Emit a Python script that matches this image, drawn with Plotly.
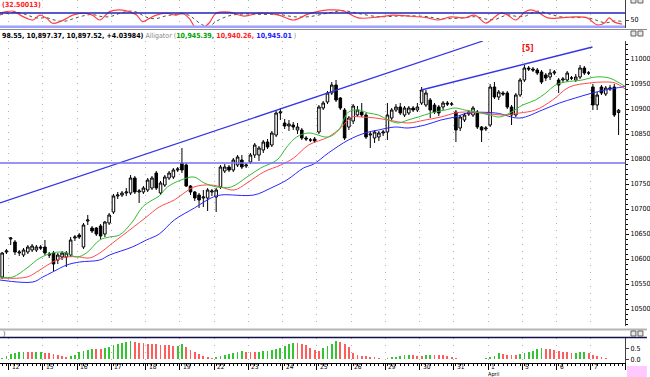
import plotly.graph_objects as go

# ---------------- data ----------------
bars = list(range(145))
opens = [10564,10614,10640,10634,10612,10608,10614,10618,10618,10624,
         10624,10610,10612,10598,10604,10604,10608,10642,10648,10624,
         10676,10662,10662,10666,10650,10672,10694,10726,10728,10732,
         10732,10762,10734,10734,10738,10742,10772,10732,10748,10762,
         10764,10778,10792,10788,10746,10734,10728,10722,10722,10734,
         10724,10744,10776,10784,10778,10788,10798,10786,10794,10808,
         10808,10818,10834,10828,10848,10892,10872,10866,10868,10858,
         10858,10842,10838,10840,10854,10902,10914,10932,10948,10922,
         10898,10864,10876,10888,10894,10888,10848,10842,10844,10852,
         10854,10882,10898,10904,10888,10892,10902,10898,10912,10908,
         10918,10908,10904,10904,10912,10910,10894,10862,10878,10890,
         10888,10894,10864,10860,10868,10944,10924,10932,10932,10904,
         10888,10928,10958,10982,10980,10978,10974,10968,10964,10972,
         10958,10958,10958,10962,10958,10964,10982,10972,10944,10908,
         10944,10930,10940,10944,10893]
highs = [10614,10620,10644,10638,10618,10622,10628,10630,10628,10628,
         10638,10614,10616,10612,10616,10616,10644,10648,10652,10672,
         10688,10666,10664,10670,10676,10692,10730,10734,10736,10742,
         10768,10766,10740,10746,10762,10766,10776,10756,10768,10776,
         10782,10784,10822,10792,10748,10736,10732,10738,10742,10740,
         10742,10788,10790,10788,10802,10808,10808,10792,10812,10832,
         10826,10838,10840,10856,10896,10902,10880,10878,10874,10872,
         10862,10846,10842,10844,10908,10916,10936,10954,10958,10924,
         10902,10886,10910,10906,10912,10892,10856,10858,10856,10858,
         10912,10902,10910,10912,10906,10906,10906,10912,10944,10938,
         10922,10912,10908,10916,10916,10914,10898,10888,10892,10898,
         10906,10898,10866,10866,10950,10954,10938,10936,10936,10908,
         10932,10962,10988,10986,10984,10982,10978,10972,10980,10978,
         10962,10964,10976,10966,10970,10988,10986,10976,10950,10934,
         10948,10946,10948,10950,10900]
lows = [10560,10610,10628,10608,10606,10604,10610,10614,10614,10618,
        10608,10602,10576,10590,10598,10584,10604,10636,10640,10620,
        10668,10652,10646,10640,10644,10668,10690,10720,10724,10726,
        10728,10730,10712,10730,10734,10738,10738,10728,10744,10758,
        10760,10774,10772,10744,10728,10716,10702,10704,10696,10726,
        10694,10740,10772,10774,10774,10784,10780,10782,10790,10802,
        10796,10812,10820,10824,10844,10878,10860,10856,10858,10850,
        10838,10836,10834,10832,10850,10898,10910,10928,10914,10898,
        10838,10858,10870,10884,10884,10840,10822,10832,10836,10846,
        10838,10878,10894,10888,10884,10888,10894,10894,10908,10904,
        10882,10890,10886,10898,10906,10906,10834,10856,10874,10886,
        10884,10860,10834,10856,10864,10920,10918,10926,10900,10868,
        10884,10924,10954,10976,10974,10968,10950,10956,10958,10968,
        10932,10952,10954,10958,10954,10960,10968,10968,10898,10898,
        10928,10926,10936,10884,10848]
closes = [10612,10616,10642,10614,10614,10618,10624,10626,10624,10622,
          10612,10608,10590,10608,10612,10612,10638,10644,10644,10668,
          10678,10656,10650,10646,10674,10688,10726,10728,10732,10734,
          10762,10734,10736,10742,10758,10762,10742,10752,10764,10772,
          10778,10780,10778,10746,10734,10722,10718,10724,10738,10736,
          10738,10784,10784,10778,10798,10804,10784,10788,10808,10828,
          10822,10834,10824,10852,10892,10894,10866,10870,10864,10864,
          10842,10840,10838,10836,10904,10912,10932,10948,10918,10902,
          10842,10882,10906,10898,10888,10844,10850,10854,10852,10854,
          10888,10898,10904,10892,10902,10902,10898,10904,10938,10932,
          10898,10894,10892,10912,10910,10910,10858,10884,10888,10894,
          10902,10864,10858,10862,10944,10924,10934,10930,10904,10888,
          10928,10958,10982,10980,10978,10972,10954,10962,10972,10974,
          10948,10960,10972,10962,10964,10982,10972,10972,10908,10928,
          10932,10942,10942,10888,10897.52]

# Alligator lines (sampled along the bars)
jaw_x = [-0.5,7.2,9.5,11.8,15.1,18.1,22.8,25.1,30.4,33.7,
         36.7,40.2,44.9,48.8,51.1,58.8,62.8,66.5,70.4,72.8,
         76.2,80.9,84.8,87.9,91.8,94.8,98.8,102.5,105.8,108.8,
         115.3,120.9,126.2,130.2,133.9,137.9,140.9,145.5]
jaw_p = [10558,10554,10564,10574,10588,10594,10598,10608,10624,10638,
         10650,10678,10702,10722,10728,10728,10742,10758,10782,10790,
         10812,10838,10852,10858,10864,10862,10868,10878,10884,10892,
         10892,10882,10898,10912,10922,10932,10938,10945.01]
teeth_x = [-0.5,5.8,8.8,11.8,15.1,18.1,20.4,22.8,25.8,30.4,
           33.7,36.7,40.2,44.8,48.8,51.1,54.2,57.2,61.1,65.1,
           68.1,71.6,76.2,79.3,81.6,83.9,87.2,90.2,94.8,98.8,
           102.5,105.8,108.1,112.3,117.0,120.9,124.6,128.6,132.5,137.2,
           140.2,143.2,145.5]
teeth_p = [10562,10564,10578,10594,10604,10604,10602,10612,10632,10662,
           10684,10704,10718,10744,10748,10744,10738,10752,10774,10788,
           10802,10828,10844,10864,10884,10884,10882,10878,10872,10878,
           10884,10892,10894,10892,10888,10892,10898,10918,10944,10952,
           10954,10952,10940.26]
lips_x = [-0.5,2.5,5.8,8.8,11.8,13.5,15.1,17.4,19.7,22.8,
          25.1,27.4,30.4,32.8,35.1,36.7,38.6,41.8,44.8,47.2,
          50.2,53.5,57.2,60.4,64.2,66.5,68.8,71.6,76.2,78.6,
          80.9,83.2,85.5,87.9,90.2,92.5,94.8,97.2,100.2,103.5,
          105.8,108.1,110.7,113.9,116.2,118.6,121.6,124.6,127.0,129.3,
          131.6,135.5,138.6,141.8,144.2,145.5]
lips_p = [10564,10564,10582,10602,10612,10614,10612,10604,10612,10638,
          10644,10648,10674,10704,10718,10726,10744,10758,10764,10752,
          10744,10744,10764,10782,10798,10824,10844,10852,10844,10858,
          10894,10898,10892,10888,10878,10872,10878,10884,10892,10898,
          10902,10898,10894,10888,10884,10892,10908,10918,10932,10948,
          10954,10958,10964,10962,10952,10945.39]

# Oscillator (top panel)
osc_x = [-0.5,1.1,2.5,4.2,5.8,7.2,8.8,10.4,11.8,13.5,
         15.1,16.5,18.8,21.1,22.8,25.1,27.4,29.7,31.4,32.8,
         34.4,36.0,38.3,40.7,42.1,43.7,45.3,46.7,48.3,50.0,
         53.0,56.5,60.4,64.6,68.1,71.6,76.2,79.7,83.2,87.9,
         91.4,94.8,99.5,101.8,104.8,108.1,110.4,113.0,115.1,116.5,
         118.1,120.0,122.1,123.5,125.1,127.4,130.4,133.7,136.7,139.0,
         140.7,141.8,143.0,144.8]
osc_k = [79,86,89,71,57,50,71,57,36,43,
         57,71,79,71,50,86,93,86,71,43,
         57,71,79,71,79,57,14,14,36,79,
         84,67,80,71,50,76,93,89,59,63,
         71,67,59,50,63,59,71,37,63,80,
         71,50,84,93,84,59,59,63,59,29,
         37,59,41,32.5]
osc_d = [72,78,83,80,72,62,58,60,52,45,
         46,55,67,74,66,64,78,88,84,70,
         58,56,68,74,76,70,48,30,22,44,
         68,76,74,74,64,64,80,90,78,64,
         66,68,64,56,56,60,64,54,52,62,
         72,66,66,78,88,78,64,60,60,48,
         38,40,46,44]
osc_levels = [80, 20]

# Histogram (bottom panel)
hist_vals = [0.05,0.15,0.23,0.27,0.32,0.35,0.34,0.32,0.33,0.35,
             0.30,0.27,0.24,0.20,0.17,0.12,0.15,0.20,0.32,0.38,
             0.42,0.47,0.46,0.45,0.50,0.58,0.65,0.70,0.73,0.77,
             0.83,0.77,0.76,0.73,0.70,0.69,0.68,0.67,0.65,0.64,
             0.61,0.62,0.70,0.55,0.42,0.35,0.24,0.15,0.09,0.05,
             0.09,0.15,0.21,0.24,0.30,0.33,0.36,0.35,0.33,0.32,
             0.35,0.36,0.39,0.42,0.47,0.53,0.61,0.68,0.73,0.72,
             0.70,0.64,0.53,0.42,0.40,0.50,0.61,0.70,0.83,0.77,
             0.70,0.58,0.30,0.20,0.17,0.15,0.12,0.09,0.05,0.03,
             0.06,0.09,0.12,0.15,0.18,0.20,0.18,0.17,0.16,0.20,
             0.21,0.20,0.19,0.18,0.17,0.12,0.08,0.03,0.01,0.02,
             0.01,0.00,0.02,0.05,0.09,0.15,0.27,0.23,0.21,0.20,
             0.19,0.23,0.27,0.33,0.39,0.45,0.50,0.49,0.47,0.44,
             0.39,0.35,0.32,0.28,0.29,0.31,0.33,0.27,0.20,0.15,
             0.09,0.05,0.02,0.03,0.01]

# Drawn objects
trend1_x = [-0.5, 112.3]
trend1_p = [10712, 11036]
trend2_x = [97.9, 137.9]
trend2_p = [10938, 11024]
support_level = 10792
wave_label_x, wave_label_p = 122.8, 11022

day_labels = ["12","15","16","17","18","19","22","23","24","25",
              "26","29","30","31","1","5","6","7","8"]
day_start = [2,10,18,26,34,42,50,58,66,74,82,90,98,106,114,122,130,138,146]
price_ticks = [10500,10550,10600,10650,10700,10750,10800,10850,10900,10950,11000]

# ---------------- layout helpers ----------------
W, H = 650, 377
MR, MB = 22, 14
PW, PH = W - MR, H - MB
def py(p):
    return 1 - p / PH
def pxx(p):
    return p / PW

tick_pos = [s - 0.5 for s in day_start]
FONT = "Liberation Sans Narrow, DejaVu Sans Condensed, Liberation Sans"

fig = go.Figure()

# top oscillator
fig.add_trace(go.Scatter(x=osc_x, y=osc_d, mode="lines", xaxis="x", yaxis="y",
                         line=dict(color="#505050", width=1, dash="dot", shape="spline"),
                         hoverinfo="skip", showlegend=False))
fig.add_trace(go.Scatter(x=osc_x, y=osc_k, mode="lines", xaxis="x", yaxis="y",
                         line=dict(color="#ff4040", width=1.2, shape="spline"),
                         hoverinfo="skip", showlegend=False))

# main candles
fig.add_trace(go.Candlestick(x=bars, open=opens, high=highs, low=lows, close=closes,
                             xaxis="x2", yaxis="y2",
                             increasing=dict(line=dict(color="#000000", width=1), fillcolor="#ffffff"),
                             decreasing=dict(line=dict(color="#000000", width=1), fillcolor="#000000"),
                             whiskerwidth=0, hoverinfo="skip", showlegend=False))
# alligator
fig.add_trace(go.Scatter(x=jaw_x, y=jaw_p, mode="lines", xaxis="x2", yaxis="y2",
                         line=dict(color="#2828ff", width=1, shape="spline"),
                         hoverinfo="skip", showlegend=False))
fig.add_trace(go.Scatter(x=teeth_x, y=teeth_p, mode="lines", xaxis="x2", yaxis="y2",
                         line=dict(color="#ff4a4a", width=1, shape="spline"),
                         hoverinfo="skip", showlegend=False))
fig.add_trace(go.Scatter(x=lips_x, y=lips_p, mode="lines", xaxis="x2", yaxis="y2",
                         line=dict(color="#33bb33", width=1, shape="spline"),
                         hoverinfo="skip", showlegend=False))
# trend lines
for tx, tp in ((trend1_x, trend1_p), (trend2_x, trend2_p)):
    fig.add_trace(go.Scatter(x=tx, y=tp, mode="lines", xaxis="x2", yaxis="y2",
                             line=dict(color="#3535e6", width=1.3),
                             hoverinfo="skip", showlegend=False, cliponaxis=True))

# histogram
hist_colors = ["#33c433" if i == 0 or hist_vals[i] >= hist_vals[i - 1] else "#ff5c5c"
               for i in range(len(hist_vals))]
fig.add_trace(go.Bar(x=bars, y=hist_vals, xaxis="x3", yaxis="y3",
                     marker=dict(color=hist_colors, line=dict(width=0)),
                     width=0.42, hoverinfo="skip", showlegend=False))

xcommon = dict(range=[-0.5, 145.5], showgrid=True, gridcolor="#b0b0b0", griddash="1px,6px",
               gridwidth=1, tickmode="array", tickvals=tick_pos, showticklabels=False,
               zeroline=False, fixedrange=True)

fig.update_layout(
    width=W, height=H,
    margin=dict(l=0, r=MR, t=0, b=MB),
    paper_bgcolor="white", plot_bgcolor="white",
    font=dict(family=FONT, size=7, color="#000000"),
    bargap=0, boxgap=0.15,
    xaxis=dict(**xcommon, anchor="y", ticks=""),
    xaxis2=dict(**xcommon, anchor="y2", ticks="", matches="x", rangeslider=dict(visible=False)),
    xaxis3=dict(**xcommon, anchor="y3", matches="x", ticks="outside", ticklen=6,
                tickcolor="#000000", showline=True, linecolor="#000000", linewidth=1,
                minor=dict(ticks="outside", ticklen=2, dtick=1, tick0=0, tickcolor="#000000",
                           showgrid=False)),
    yaxis=dict(domain=[py(28), 1], range=[15.7, 135.7], side="right", tickmode="array",
               tickvals=[50], ticktext=["50"], showgrid=False, zeroline=False, showline=True,
               linecolor="#404040", ticks="outside", ticklen=3, tickfont=dict(size=7),
               fixedrange=True),
    yaxis2=dict(domain=[py(326), py(41)], range=[10466, 11036], side="right", tickmode="array",
                tickvals=price_ticks, tickformat="d", showgrid=False, zeroline=False,
                showline=True, linecolor="#404040", ticks="outside", ticklen=3,
                tickcolor="#000000",
                minor=dict(ticks="outside", ticklen=2, dtick=10, tickcolor="#000000"),
                tickfont=dict(size=7), fixedrange=True),
    yaxis3=dict(domain=[0, py(338)], range=[-0.17, 0.97], side="right", tickmode="array",
                tickvals=[0, 0.5], ticktext=["0.0", "0.5"], showgrid=False, zeroline=False,
                showline=True, linecolor="#404040", ticks="outside", ticklen=3,
                tickfont=dict(size=7), fixedrange=True),
)

shapes = []
for lvl, col, wd in ((osc_levels[0], "#2222bb", 1.5), (osc_levels[1], "#a0a0ff", 3)):
    shapes.append(dict(type="line", xref="paper", yref="y", x0=0, x1=1, y0=lvl, y1=lvl,
                       line=dict(color=col, width=wd)))
shapes.append(dict(type="line", xref="paper", yref="y2", x0=0, x1=1,
                   y0=support_level, y1=support_level, line=dict(color="#7272f2", width=1.5)))
# panel separators
shapes.append(dict(type="line", xref="paper", yref="paper", x0=0, x1=W / PW, y0=py(29.5), y1=py(29.5),
                   line=dict(color="#8a8a8a", width=1)))
shapes.append(dict(type="line", xref="paper", yref="paper", x0=0, x1=W / PW, y0=py(329.5), y1=py(329.5),
                   line=dict(color="#b4b4b4", width=2)))
shapes.append(dict(type="line", xref="paper", yref="paper", x0=0, x1=W / PW, y0=py(337.5), y1=py(337.5),
                   line=dict(color="#10104a", width=1.5)))
# small panel icons
for yy in (-2, 31, 331):
    for x0 in (634, 641):
        shapes.append(dict(type="rect", xref="paper", yref="paper",
                           x0=pxx(x0), x1=pxx(x0 + 5), y0=py(yy + 5), y1=py(yy),
                           line=dict(color="#606060", width=1), fillcolor="#e8e8e8"))
# pink marker box bottom right
shapes.append(dict(type="rect", xref="paper", yref="paper", x0=pxx(630), x1=pxx(650),
                   y0=py(377), y1=py(366), line=dict(width=0), fillcolor="#ffc8ff"))
fig.update_layout(shapes=shapes)

ann = []
ann.append(dict(xref="paper", yref="paper", x=0, y=py(5), xanchor="left", yanchor="middle",
                text="<b>(32.50013)</b>", showarrow=False, bgcolor="white",
                font=dict(size=7, color="#ff2020")))
title_txt = ("<b>98.55, 10,897.37, 10,897.52, +4.03984)</b> "
             "<span style='color:#8a8a8a'>Alligator (</span>"
             "<b><span style='color:#00a000'>10,945.39, </span>"
             "<span style='color:#ff2020'>10,940.26, </span>"
             "<span style='color:#2020ff'>10,945.01</span></b>"
             "<span style='color:#8a8a8a'> )</span>")
ann.append(dict(xref="paper", yref="paper", x=0, y=py(35.5), xanchor="left", yanchor="middle",
                text=title_txt, showarrow=False, font=dict(size=7, color="#000000")))
ann.append(dict(xref="paper", yref="paper", x=pxx(1), y=py(333.5), xanchor="left", yanchor="middle",
                text=")", showarrow=False, font=dict(size=7, color="#404040")))
ann.append(dict(xref="x2", yref="y2", x=wave_label_x, y=wave_label_p, text="<b>[5]</b>",
                showarrow=False, font=dict(size=8, color="#ee1111")))
for lab, tp in zip(day_labels, tick_pos):
    ann.append(dict(xref="x3", yref="paper", x=tp + 0.5, y=py(366.5), xanchor="left",
                    yanchor="middle", text=lab, showarrow=False, borderpad=0,
                    font=dict(size=6.5, color="#000000")))
ann.append(dict(xref="x3", yref="paper", x=tick_pos[day_labels.index("1")] - 0.3, y=py(374.2),
                xanchor="left", yanchor="middle", text="April", showarrow=False, borderpad=0,
                font=dict(size=5.5, color="#000000")))
fig.update_layout(annotations=ann)

fig.write_html("out.html", config={"displayModeBar": False, "staticPlot": True},
               post_script="document.body.style.margin='0';document.body.style.overflow='hidden';")
